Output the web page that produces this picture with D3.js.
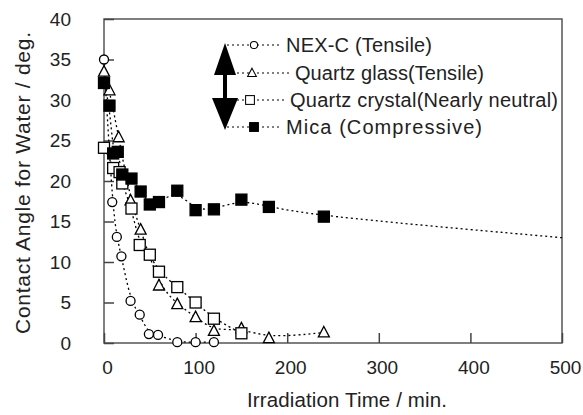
<!DOCTYPE html>
<html>
<head>
<meta charset="utf-8">
<script src="https://cdn.jsdelivr.net/npm/d3@7"></script>
<style>
  body { margin: 0; background: #fff; }
  svg { display: block; }
  text { font-family: "Liberation Sans", Arial, sans-serif; fill: #222; }
</style>
</head>
<body>
<div id="chart"></div>
<script>
// ------------------------------------------------------------
// Contact angle vs irradiation time
// each point: [time (min), contact angle (deg)]
// ------------------------------------------------------------
const nexC = [[0, 35.0], [9, 17.4], [14, 13.1], [19, 10.7], [29, 5.2], [39, 3.5],
              [49, 1.1], [59, 1.0], [80, 0.1], [100, 0.1], [120, 0.1]];
const quartzGlass = [[0, 33.5], [6, 31.2], [16, 25.4], [29, 17.6], [40, 14.0], [60, 7.1],
                     [80, 4.8], [100, 3.2], [120, 1.5], [150, 1.8], [180, 0.6], [240, 1.3]];
const quartzCrystal = [[0, 24.1], [10, 21.6], [17, 21.1], [20, 19.7], [30, 16.6], [39, 12.1],
                       [50, 10.9], [60, 8.8], [80, 6.9], [100, 5.0], [120, 3.0], [150, 1.2]];
const mica = [[0, 32.1], [6, 29.3], [10, 23.4], [15, 23.6], [20, 20.8], [30, 20.3], [40, 18.7],
              [50, 17.1], [60, 17.4], [80, 18.8], [100, 16.4], [120, 16.5], [150, 17.7],
              [180, 16.8], [240, 15.6]];
// the dotted trend for mica runs on to the right edge
const micaTrendEnd = [[500, 13.0]];

const seriesNames = ['NEX-C (Tensile)', 'Quartz glass(Tensile)',
                     'Quartz crystal(Nearly neutral)', 'Mica (Compressive)'];
const xTicks = [0, 100, 200, 300, 400, 500];
const yTicks = [0, 5, 10, 15, 20, 25, 30, 35, 40];

const W = 583, H = 415;
const plot = { left: 104, right: 562, top: 19, bottom: 343 };

const svg = d3.select('#chart').append('svg')
    .attr('width', W)
    .attr('height', H);

const x = d3.scaleLinear().domain([0, 500]).range([plot.left, plot.right]);
const y = d3.scaleLinear().domain([0, 40]).range([plot.bottom, plot.top]);

// Frame
svg.append('rect')
    .attr('x', plot.left).attr('y', plot.top)
    .attr('width', plot.right - plot.left)
    .attr('height', plot.bottom - plot.top)
    .attr('fill', 'none')
    .attr('stroke', '#555')
    .attr('stroke-width', 1.5);

// Axes (ticks point inward)
const yAxis = svg.append('g')
    .attr('transform', `translate(${plot.left},0)`)
    .call(d3.axisLeft(y).tickValues(yTicks).tickSizeInner(-10).tickSizeOuter(0).tickPadding(33));
const xAxis = svg.append('g')
    .attr('transform', `translate(0,${plot.bottom})`)
    .call(d3.axisBottom(x).tickValues(xTicks).tickSizeInner(-10).tickSizeOuter(0).tickPadding(18));

[xAxis, yAxis].forEach(ax => {
    ax.select('.domain').remove();
    ax.selectAll('line').attr('stroke', '#444').attr('stroke-width', 1.5);
    ax.selectAll('text')
        .attr('font-size', '19px')
        .attr('font-family', '"Liberation Sans", Arial, sans-serif')
        .attr('fill', '#222');
});
xAxis.selectAll('text').attr('dx', 3);

// Axis titles
svg.append('text')
    .attr('x', 347).attr('y', 407)
    .attr('text-anchor', 'middle')
    .attr('font-size', '20.5px')
    .attr('textLength', 200)
    .text('Irradiation Time / min.');

svg.append('text')
    .attr('transform', 'translate(30,183) rotate(-90)')
    .attr('text-anchor', 'middle')
    .attr('font-size', '21px')
    .attr('textLength', 302)
    .text('Contact Angle for Water / deg.');

// Markers
function drawMarker(sel, kind) {
    if (kind === 'circle') {
        sel.append('circle').attr('r', 4.5)
            .attr('fill', '#fff').attr('stroke', '#000').attr('stroke-width', 1.3);
    } else if (kind === 'triangle') {
        sel.append('path').attr('d', 'M0,-6L5.5,4.5L-5.5,4.5Z')
            .attr('fill', '#fff').attr('stroke', '#000').attr('stroke-width', 1.3);
    } else {
        sel.append('rect').attr('x', -5.5).attr('y', -5.5).attr('width', 11).attr('height', 11)
            .attr('fill', kind === 'filled' ? '#000' : '#fff')
            .attr('stroke', '#000').attr('stroke-width', 1.3);
    }
}

const series = [
    { name: seriesNames[0], data: nexC, kind: 'circle', trend: nexC },
    { name: seriesNames[1], data: quartzGlass, kind: 'triangle', trend: quartzGlass },
    { name: seriesNames[2], data: quartzCrystal, kind: 'square', trend: quartzCrystal },
    { name: seriesNames[3], data: mica, kind: 'filled', trend: mica.concat(micaTrendEnd) }
];

const line = d3.line()
    .x(d => x(d[0]))
    .y(d => y(d[1]))
    .curve(d3.curveBasis);

// Dotted trend lines
svg.append('g')
    .selectAll('path')
    .data(series)
    .join('path')
    .attr('d', d => line(d.trend))
    .attr('fill', 'none')
    .attr('stroke', '#000')
    .attr('stroke-width', 1.3)
    .attr('stroke-dasharray', '2,3');

// Points
series.forEach(s => {
    svg.append('g')
        .selectAll('g')
        .data(s.data)
        .join('g')
        .attr('transform', d => `translate(${x(d[0])},${y(d[1])})`)
        .each(function() { drawMarker(d3.select(this), s.kind); });
});

// Legend with double-headed arrow (tensile <-> compressive)
const legend = svg.append('g');
const arrowX = 225;
legend.append('rect')
    .attr('x', arrowX - 2).attr('y', 70).attr('width', 4).attr('height', 32)
    .attr('fill', '#000');
legend.append('path')
    .attr('d', `M${arrowX},43L${arrowX + 11},75L${arrowX - 11},75Z`)
    .attr('fill', '#000');
legend.append('path')
    .attr('d', `M${arrowX},130L${arrowX + 13},98L${arrowX - 13},98Z`)
    .attr('fill', '#000');

const rowY = [45, 73, 100, 127];
const rowLineStart = [227, 232, 237, 227];
const rowTextX = [286, 295, 290, 286];
const rowTextLen = [146, 189, 268, 196];

series.forEach((s, i) => {
    const ry = rowY[i];
    const mx = i === 1 ? 252 : (i === 2 ? 250 : 254);
    legend.append('line')
        .attr('x1', rowLineStart[i]).attr('x2', rowTextX[i] - 4)
        .attr('y1', ry).attr('y2', ry)
        .attr('stroke', '#000').attr('stroke-width', 1.2)
        .attr('stroke-dasharray', '2,3');
    const m = legend.append('g').attr('transform', `translate(${mx},${ry}) scale(0.8)`);
    drawMarker(m, s.kind);
    legend.append('text')
        .attr('x', rowTextX[i]).attr('y', ry)
        .attr('dy', '0.36em')
        .attr('font-size', '20px')
        .attr('textLength', rowTextLen[i])
        .text(s.name);
});
</script>
</body>
</html>
